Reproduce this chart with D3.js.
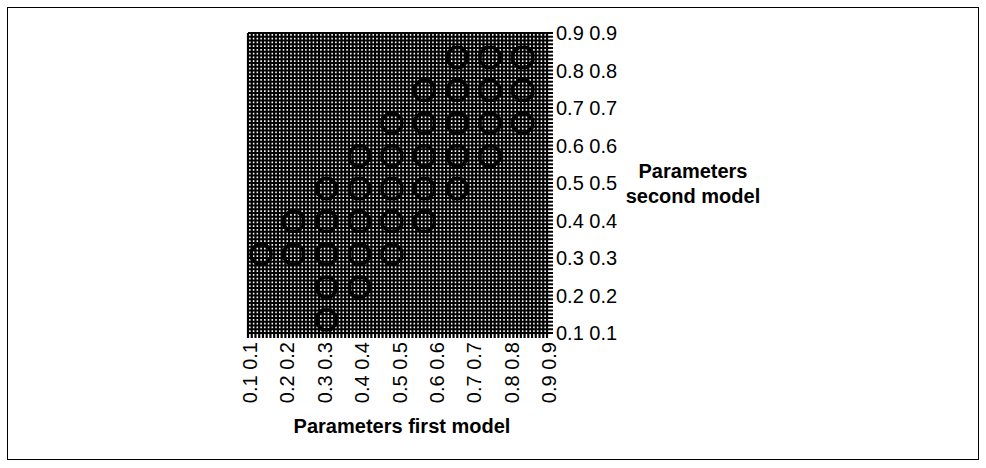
<!DOCTYPE html>
<html>
<head>
<meta charset="utf-8">
<script src="https://cdn.jsdelivr.net/npm/d3@7"></script>
<style>
  body { margin: 0; background: #fff; }
  text { font-family: Arial, "Liberation Sans", sans-serif; }
</style>
</head>
<body>
<svg id="chart" width="986" height="468"></svg>
<script>
// category values on both axes (one gridline + tick mark each)
var categories = [0.10,0.11,0.12,0.13,0.14,0.15,0.16,0.17,0.18,0.19,
  0.20,0.21,0.22,0.23,0.24,0.25,0.26,0.27,0.28,0.29,
  0.30,0.31,0.32,0.33,0.34,0.35,0.36,0.37,0.38,0.39,
  0.40,0.41,0.42,0.43,0.44,0.45,0.46,0.47,0.48,0.49,
  0.50,0.51,0.52,0.53,0.54,0.55,0.56,0.57,0.58,0.59,
  0.60,0.61,0.62,0.63,0.64,0.65,0.66,0.67,0.68,0.69,
  0.70,0.71,0.72,0.73,0.74,0.75,0.76,0.77,0.78,0.79,
  0.80,0.81,0.82,0.83,0.84,0.85,0.86,0.87,0.88,0.89,0.90];

// labelled ticks
var tickValues = [0.1,0.2,0.3,0.4,0.5,0.6,0.7,0.8,0.9];
var xTickLabels = ["0.1 0.1","0.2 0.2","0.3 0.3","0.4 0.4","0.5 0.5","0.6 0.6","0.7 0.7","0.8 0.8","0.9 0.9"];
var yTickLabels = ["0.1 0.1","0.2 0.2","0.3 0.3","0.4 0.4","0.5 0.5","0.6 0.6","0.7 0.7","0.8 0.8","0.9 0.9"];

// parameter values where the closed contours sit
var peakLevels = [0.135,0.222,0.31,0.398,0.485,0.572,0.66,0.747,0.835];

// 1 = closed contour around (peakLevels[col], peakLevels[row]); row 0 = bottom
var contourRows = [
  [0,0,1,0,0,0,0,0,0],
  [0,0,1,1,0,0,0,0,0],
  [1,1,1,1,1,0,0,0,0],
  [0,1,1,1,1,1,0,0,0],
  [0,0,1,1,1,1,1,0,0],
  [0,0,0,1,1,1,1,1,0],
  [0,0,0,0,1,1,1,1,1],
  [0,0,0,0,0,1,1,1,1],
  [0,0,0,0,0,0,1,1,1]
];

var svg = d3.select("#chart");

// outer chart border
svg.append("rect")
  .attr("x", 7.5).attr("y", 7.5)
  .attr("width", 971).attr("height", 452)
  .attr("fill", "none").attr("stroke", "#000").attr("stroke-width", 1);

var x = d3.scaleLinear().domain([0.1, 0.9]).range([248, 547]);
var y = d3.scaleLinear().domain([0.1, 0.9]).range([333, 33]);

svg.append("clipPath").attr("id", "plotclip")
  .append("rect").attr("x", 248).attr("y", 33).attr("width", 299).attr("height", 300);

// gridlines (extend past the plot as tick marks)
var grid = svg.append("g").attr("stroke", "#000").attr("stroke-width", 2.2);
grid.selectAll(".vgrid").data(categories).enter().append("line")
  .attr("class", "vgrid")
  .attr("x1", function(d) { return x(d); }).attr("x2", function(d) { return x(d); })
  .attr("y1", y(0.9)).attr("y2", y(0.1) + 5);
grid.selectAll(".hgrid").data(categories).enter().append("line")
  .attr("class", "hgrid")
  .attr("y1", function(d) { return y(d); }).attr("y2", function(d) { return y(d); })
  .attr("x1", x(0.1)).attr("x2", x(0.9) + 6);

// contours: each flagged lattice point becomes a 2x2 block on a fine grid
var n = 40;
var values = new Array(n * n).fill(0);
contourRows.forEach(function(row, j) {
  row.forEach(function(v, i) {
    if (!v) return;
    [2, 3].forEach(function(a) {
      [2, 3].forEach(function(b) {
        values[(4 * j + a) * n + (4 * i + b)] = 1;
      });
    });
  });
});

var fineDomain = peakLevels.map(function(d, k) { return 4 * k + 3; });
var fx = d3.scaleLinear().domain(fineDomain).range(peakLevels);

var contours = d3.contours().size([n, n]).thresholds([0.3])(values);
var path = d3.geoPath(d3.geoTransform({
  point: function(px, py) { this.stream.point(x(fx(px)), y(fx(py))); }
}));

svg.append("g").attr("clip-path", "url(#plotclip)")
  .selectAll("path").data(contours).enter().append("path")
  .attr("d", path)
  .attr("fill", "none")
  .attr("stroke", "#000")
  .attr("stroke-width", 3.5)
  .attr("stroke-linejoin", "round");

// x axis labels (rotated)
svg.append("g").selectAll("text").data(tickValues).enter().append("text")
  .attr("transform", function(d) { return "translate(" + (x(d) + 2) + ",342) rotate(-90)"; })
  .attr("text-anchor", "end")
  .attr("dy", "0.35em")
  .attr("font-size", "20px")
  .attr("fill", "#000")
  .text(function(d, i) { return xTickLabels[i]; });

// y axis labels on the right
svg.append("g").selectAll("text").data(tickValues).enter().append("text")
  .attr("x", 556)
  .attr("y", function(d) { return y(d); })
  .attr("dy", "0.35em")
  .attr("font-size", "20px")
  .attr("fill", "#000")
  .text(function(d, i) { return yTickLabels[i]; });

// axis titles
svg.append("text")
  .attr("x", 402).attr("y", 433)
  .attr("text-anchor", "middle")
  .attr("font-size", "20px").attr("font-weight", "bold")
  .text("Parameters first model");

var ytitle = svg.append("text")
  .attr("text-anchor", "middle")
  .attr("font-size", "20px").attr("font-weight", "bold");
ytitle.append("tspan").attr("x", 693).attr("y", 178).text("Parameters");
ytitle.append("tspan").attr("x", 693).attr("y", 203).text("second model");
</script>
</body>
</html>
